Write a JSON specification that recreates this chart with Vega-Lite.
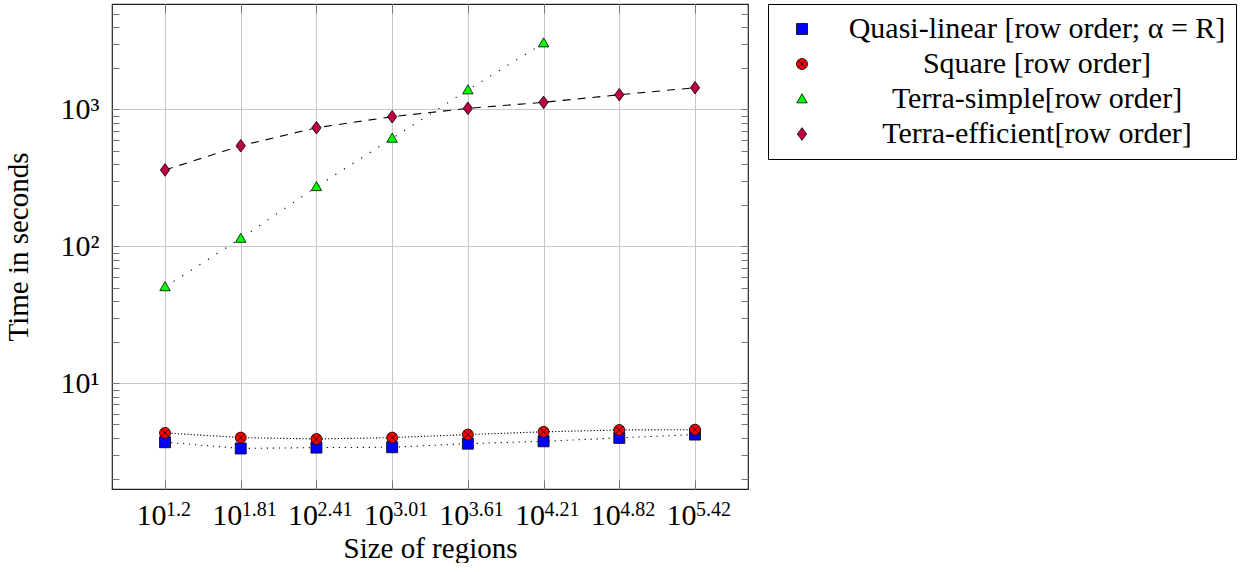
{
  "$schema": "https://vega.github.io/schema/vega-lite/v6.json",
  "width": 636,
  "height": 485,
  "padding": {"left": 4, "top": 3, "right": 0, "bottom": 0},
  "autosize": {"type": "pad"},
  "config": {
    "font": "Liberation Serif",
    "view": {"stroke": "#222", "strokeWidth": 1.2},
    "axis": {"domain": false, "labelFont": "Liberation Serif", "titleFont": "Liberation Serif", "labelColor": "black", "titleColor": "black", "titleFontWeight": "normal", "tickColor": "#777", "tickWidth": 1, "gridColor": "#c8c8c8", "gridWidth": 1, "labelOverlap": false, "labelFlush": false}
  },
  "data": {"values": [
    {"series": "Quasi-linear [row order; α = R]", "size": 16, "time": 3.71},
    {"series": "Quasi-linear [row order; α = R]", "size": 64, "time": 3.34},
    {"series": "Quasi-linear [row order; α = R]", "size": 256, "time": 3.39},
    {"series": "Quasi-linear [row order; α = R]", "size": 1024, "time": 3.41},
    {"series": "Quasi-linear [row order; α = R]", "size": 4096, "time": 3.62},
    {"series": "Quasi-linear [row order; α = R]", "size": 16384, "time": 3.77},
    {"series": "Quasi-linear [row order; α = R]", "size": 65536, "time": 3.99},
    {"series": "Quasi-linear [row order; α = R]", "size": 262144, "time": 4.22},
    {"series": "Square [row order]", "size": 16, "time": 4.34},
    {"series": "Square [row order]", "size": 64, "time": 4.01},
    {"series": "Square [row order]", "size": 256, "time": 3.92},
    {"series": "Square [row order]", "size": 1024, "time": 4.01},
    {"series": "Square [row order]", "size": 4096, "time": 4.22},
    {"series": "Square [row order]", "size": 16384, "time": 4.42},
    {"series": "Square [row order]", "size": 65536, "time": 4.56},
    {"series": "Square [row order]", "size": 262144, "time": 4.58},
    {"series": "Terra-simple[row order]", "size": 16, "time": 50.5},
    {"series": "Terra-simple[row order]", "size": 64, "time": 114},
    {"series": "Terra-simple[row order]", "size": 256, "time": 272},
    {"series": "Terra-simple[row order]", "size": 1024, "time": 614},
    {"series": "Terra-simple[row order]", "size": 4096, "time": 1384},
    {"series": "Terra-simple[row order]", "size": 16384, "time": 3048},
    {"series": "Terra-efficient[row order]", "size": 16, "time": 361},
    {"series": "Terra-efficient[row order]", "size": 64, "time": 542},
    {"series": "Terra-efficient[row order]", "size": 256, "time": 734},
    {"series": "Terra-efficient[row order]", "size": 1024, "time": 883},
    {"series": "Terra-efficient[row order]", "size": 4096, "time": 1017},
    {"series": "Terra-efficient[row order]", "size": 16384, "time": 1125},
    {"series": "Terra-efficient[row order]", "size": 65536, "time": 1278},
    {"series": "Terra-efficient[row order]", "size": 262144, "time": 1438}
  ]},
  "layer": [
    {
      "mark": {"type": "line", "color": "black", "strokeWidth": 1.1},
      "encoding": {
        "x": {"field": "size", "type": "quantitative",
          "scale": {"type": "log", "domain": [6.06, 691800], "nice": false, "zero": false},
          "axis": {"orient": "bottom", "values": [16, 64, 256, 1024, 4096, 16384, 65536, 262144], "tickSize": -9, "grid": true,
            "labelExpr": "'10'", "labelAlign": "right", "labelOffset": 1,
            "labelFontSize": 30, "labelPadding": 44, "labelBaseline": "alphabetic",
            "title": "Size of regions", "titleFontSize": 29, "titlePadding": 4}},
        "y": {"field": "time", "type": "quantitative",
          "scale": {"type": "log", "domain": [1.69, 5875], "nice": false, "zero": false},
          "axis": {"orient": "left", "values": [2,3,4,5,6,7,8,9,10,20,30,40,50,60,70,80,90,100,200,300,400,500,600,700,800,900,1000,2000,3000,4000,5000], "tickSize": -7, "grid": true,
            "gridOpacity": {"condition": {"test": "datum.value==10||datum.value==100||datum.value==1000", "value": 1}, "value": 0},
            "labelFontSize": {"condition": {"test": "datum.value==10||datum.value==100||datum.value==1000", "value": 30}, "value": 1},
            "labelExpr": "datum.value==10?'10¹':datum.value==100?'10²':datum.value==1000?'10³':''",
            "labelPadding": 20,
            "title": "Time in seconds", "titleFontSize": 29, "titlePadding": 27}},
        "strokeDash": {"field": "series", "type": "nominal",
          "scale": {"domain": ["Terra-efficient[row order]", "Terra-simple[row order]", "Square [row order]", "Quasi-linear [row order; α = R]"],
            "range": [[8, 7], [1.2, 9], [1.2, 2], [1.2, 4.8]]},
          "legend": null}
      }
    },
    {
      "mark": {"type": "point", "filled": true, "stroke": "black", "strokeWidth": 0.8, "opacity": 1, "size": 121},
      "encoding": {
        "x": {"field": "size", "type": "quantitative",
          "scale": {"type": "log", "domain": [6.06, 691800], "nice": false, "zero": false},
          "axis": {"orient": "top", "values": [16, 64, 256, 1024, 4096, 16384, 65536, 262144], "tickSize": -9, "grid": false, "labels": false, "title": null}},
        "y": {"field": "time", "type": "quantitative",
          "scale": {"type": "log", "domain": [1.69, 5875], "nice": false, "zero": false},
          "axis": {"orient": "right", "values": [2,3,4,5,6,7,8,9,10,20,30,40,50,60,70,80,90,100,200,300,400,500,600,700,800,900,1000,2000,3000,4000,5000], "tickSize": -7, "grid": false, "labels": false, "title": null}},
        "fill": {"field": "series", "type": "nominal",
          "scale": {"domain": ["Quasi-linear [row order; α = R]", "Square [row order]", "Terra-simple[row order]", "Terra-efficient[row order]"],
            "range": ["#0000ff", "#ff0000", "#00ff00", "#bf0040"]},
          "legend": {"orient": "none", "legendX": 656, "legendY": 0, "title": null,
            "strokeColor": "black", "fillColor": "white", "padding": 10,
            "labelFont": "Liberation Serif", "labelFontSize": 30, "labelColor": "black", "labelAlign": "center", "labelOffset": 220, "labelLimit": 0,
            "symbolSize": 121, "symbolOffset": 9, "symbolStrokeColor": "black", "symbolStrokeWidth": 0.8, "symbolOpacity": 1, "rowPadding": 5}},
        "shape": {"field": "series", "type": "nominal",
          "scale": {"domain": ["Quasi-linear [row order; α = R]", "Square [row order]", "Terra-simple[row order]", "Terra-efficient[row order]"],
            "range": ["square", "M1,0A1,1,0,1,1,-1,0A1,1,0,1,1,1,0ZM-0.7,-0.7L0.7,0.7M-0.7,0.7L0.7,-0.7", "M0,-0.95L0.95,0.7L-0.95,0.7Z", "M0,-1.15L0.85,0L0,1.15L-0.85,0Z"]}}
      }
    },
    {
      "data": {"values": [
        {"size": 16, "exp": "1.2"},
        {"size": 64, "exp": "1.81"},
        {"size": 256, "exp": "2.41"},
        {"size": 1024, "exp": "3.01"},
        {"size": 4096, "exp": "3.61"},
        {"size": 16384, "exp": "4.21"},
        {"size": 65536, "exp": "4.82"},
        {"size": 262144, "exp": "5.42"}
      ]},
      "mark": {"type": "text", "align": "left", "baseline": "alphabetic", "dx": 1, "dy": 27, "fontSize": 20, "font": "Liberation Serif", "color": "black"},
      "encoding": {
        "x": {"field": "size", "type": "quantitative",
          "scale": {"type": "log", "domain": [6.06, 691800], "nice": false, "zero": false}, "axis": null},
        "y": {"datum": 1.69, "type": "quantitative",
          "scale": {"type": "log", "domain": [1.69, 5875], "nice": false, "zero": false}, "axis": null},
        "text": {"field": "exp", "type": "nominal"}
      }
    }
  ],
  "resolve": {"axis": {"x": "independent", "y": "independent"}}
}
